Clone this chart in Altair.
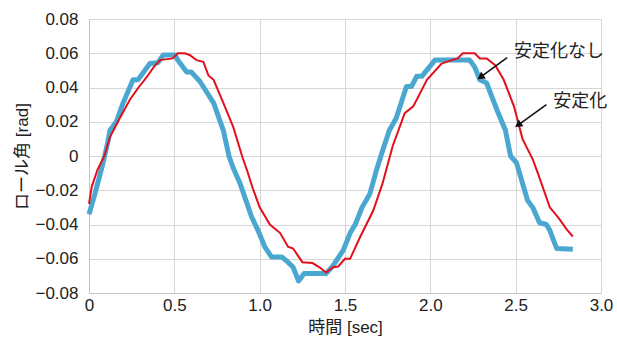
import altair as alt
import pandas as pd

# 安定化なし (red, thin)
red_x = [0.0, 0.016, 0.05, 0.09, 0.123, 0.18, 0.24, 0.29, 0.338, 0.38, 0.416, 0.49, 0.52, 0.56, 0.59, 0.63,
         0.67, 0.70, 0.73, 0.787, 0.845, 0.9, 0.925, 0.96, 1.0, 1.06, 1.12, 1.166, 1.196, 1.25, 1.31, 1.35,
         1.39, 1.43, 1.46, 1.5, 1.53, 1.59, 1.665, 1.72, 1.78, 1.85, 1.9, 1.98, 2.066, 2.125, 2.16, 2.19,
         2.26, 2.29, 2.33, 2.38, 2.43, 2.49, 2.54, 2.6, 2.63, 2.70, 2.75, 2.8, 2.835]
red_y = [-0.028, -0.018, -0.008, 0.0, 0.011, 0.022, 0.033, 0.040, 0.046, 0.052, 0.056, 0.057, 0.060, 0.060, 0.059, 0.056,
         0.055, 0.047, 0.0445, 0.031, 0.017, -0.001, -0.008, -0.019, -0.030, -0.040, -0.045, -0.053, -0.054, -0.062, -0.0625, -0.065,
         -0.068, -0.065, -0.0645, -0.060, -0.060, -0.047, -0.032, -0.016, 0.006, 0.025, 0.029, 0.0445, 0.054, 0.056, 0.057, 0.060,
         0.060, 0.057, 0.057, 0.053, 0.0445, 0.029, 0.010, -0.002, -0.010, -0.030, -0.036, -0.043, -0.047]

# 安定化 (blue, thick)
blue_x = [0.0, 0.035, 0.08, 0.11, 0.123, 0.16, 0.2, 0.258, 0.287, 0.357, 0.404, 0.435, 0.504, 0.52, 0.572, 0.6,
          0.65, 0.73, 0.787, 0.82, 0.845, 0.885, 0.953, 0.99, 1.03, 1.07, 1.13, 1.166, 1.196, 1.228, 1.26, 1.39,
          1.43, 1.49, 1.53, 1.56, 1.6, 1.646, 1.685, 1.72, 1.76, 1.8, 1.86, 1.89, 1.92, 1.95, 2.027, 2.23,
          2.26, 2.29, 2.33, 2.39, 2.44, 2.47, 2.505, 2.57, 2.6, 2.64, 2.68, 2.70, 2.74, 2.835]
blue_y = [-0.034, -0.022, -0.005, 0.008, 0.015, 0.020, 0.031, 0.0445, 0.0445, 0.054, 0.0545, 0.059, 0.059, 0.056, 0.049, 0.049,
          0.0435, 0.031, 0.015, 0.000, -0.007, -0.016, -0.0356, -0.0434, -0.053, -0.059, -0.059, -0.062, -0.065, -0.073, -0.0686, -0.0686,
          -0.064, -0.055, -0.045, -0.040, -0.030, -0.022, -0.008, 0.003, 0.015, 0.022, 0.0406, 0.0406, 0.0465, 0.0465, 0.056, 0.056,
          0.052, 0.0445, 0.0426, 0.027, 0.015, 0.000, -0.004, -0.026, -0.030, -0.039, -0.040, -0.0434, -0.054, -0.0545]

series_names = ["安定化", "安定化なし"]
series_colors = ["#4aa8d0", "#e2101c"]

x_ticks = [0, 0.5, 1.0, 1.5, 2.0, 2.5, 3.0]
y_ticks = [-0.08, -0.06, -0.04, -0.02, 0, 0.02, 0.04, 0.06, 0.08]

# annotations
label_text = ["安定化なし", "安定化"]
label_x = [2.49, 2.72]
label_y = [0.0605, 0.0315]
arrow_x1 = [2.45, 2.68]
arrow_y1 = [0.0575, 0.030]
arrow_x2 = [2.30, 2.52]
arrow_y2 = [0.0465, 0.0185]

font = "Liberation Sans, Noto Sans CJK JP, sans-serif"

df = pd.concat([
    pd.DataFrame({"x": blue_x, "y": blue_y, "s": series_names[0]}),
    pd.DataFrame({"x": red_x, "y": red_y, "s": series_names[1]}),
])
ann = pd.DataFrame({"t": label_text, "x": label_x, "y": label_y,
                    "x1": arrow_x1, "y1": arrow_y1, "x2": arrow_x2, "y2": arrow_y2})

xs = alt.Scale(domain=[0, 3.0], nice=False, zero=False)
ys = alt.Scale(domain=[-0.08, 0.08], nice=False, zero=False)

xaxis = alt.Axis(values=x_ticks, tickCount=len(x_ticks) + 2,
                 labelExpr="datum.value == 0 ? '0' : format(datum.value, '.1f')",
                 labelFlush=False, labelOverlap=False,
                 title="時間 [sec]", titleY=34, titleX=256, titleAnchor="middle",
                 titleBaseline="middle")
yaxis = alt.Axis(values=y_ticks, tickCount=len(y_ticks) + 2,
                 labelExpr="datum.value == 0 ? '0' : replace(format(datum.value, '.2f'), '-', '−')",
                 labelOverlap=False, labelFlush=False,
                 title="ロール角 [rad]", titleX=-67, titleY=137, titleAngle=270,
                 titleAlign="center", titleBaseline="middle")

base = alt.Chart(df)
cscale = alt.Scale(domain=series_names, range=series_colors)

blue = base.transform_filter(alt.datum.s == series_names[0]).mark_line(strokeWidth=5, strokeJoin="round").encode(
    x=alt.X("x:Q", scale=xs, axis=xaxis),
    y=alt.Y("y:Q", scale=ys, axis=yaxis),
    color=alt.Color("s:N", scale=cscale, legend=None),
)
red = base.transform_filter(alt.datum.s == series_names[1]).mark_line(strokeWidth=2).encode(
    x=alt.X("x:Q", scale=xs),
    y=alt.Y("y:Q", scale=ys),
    color=alt.Color("s:N", scale=cscale, legend=None),
)

annb = alt.Chart(ann)
text = annb.mark_text(align="left", baseline="middle", fontSize=18, font=font, color="#222222").encode(
    x=alt.X("x:Q", scale=xs), y=alt.Y("y:Q", scale=ys), text="t:N")
rule = annb.mark_rule(strokeWidth=1.6, color="#111111").encode(
    x=alt.X("x1:Q", scale=xs), y=alt.Y("y1:Q", scale=ys), x2="x2:Q", y2="y2:Q")
head = annb.mark_point(shape="triangle", filled=True, size=70, angle=235, color="#111111", opacity=1).encode(
    x=alt.X("x2:Q", scale=xs), y=alt.Y("y2:Q", scale=ys))

chart = alt.layer(blue, red, rule, head, text).properties(
    width=512, height=274,
    autosize=alt.AutoSizeParams(type="none"),
    padding={"left": 89, "top": 19, "right": 16, "bottom": 46},
).configure_view(stroke=None).configure_axis(
    labelFont=font, titleFont=font, labelFontSize=17, titleFontSize=17,
    labelColor="#222222", titleColor="#222222", titleFontWeight="normal",
    gridColor="#d6d6d6", gridWidth=1, domainColor="#c4c4c4", ticks=False,
).configure_axisY(labelPadding=11).configure_axisX(labelPadding=4)

chart.save("out.html", embed_options={"renderer": "svg", "actions": False})
